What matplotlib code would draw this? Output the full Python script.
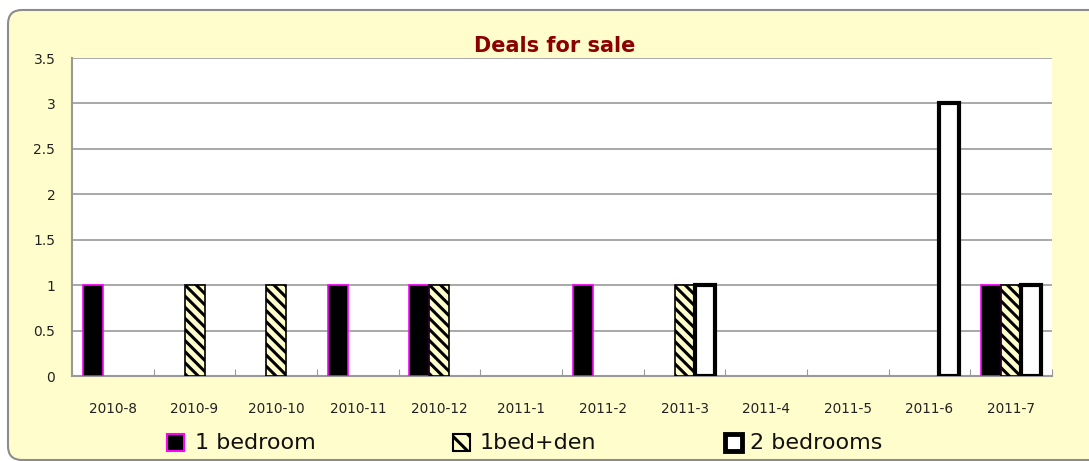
import matplotlib
matplotlib.use("Agg")
import matplotlib.pyplot as plt
import numpy as np
from matplotlib.patches import FancyBboxPatch, Rectangle

months = ["2010-8", "2010-9", "2010-10", "2010-11", "2010-12", "2011-1",
          "2011-2", "2011-3", "2011-4", "2011-5", "2011-6", "2011-7"]
one_bedroom = [1, 0, 0, 1, 1, 0, 1, 0, 0, 0, 0, 1]
one_bed_den = [0, 1, 1, 0, 1, 0, 0, 1, 0, 0, 0, 1]
two_bedrooms = [0, 0, 0, 0, 0, 0, 0, 1, 0, 0, 3, 1]
series_names = ["1 bedroom", "1bed+den", "2 bedrooms"]
y_ticks = [0, 0.5, 1, 1.5, 2, 2.5, 3, 3.5]
y_labels = ["0", "0.5", "1", "1.5", "2", "2.5", "3", "3.5"]

W, H = 1089, 461
fig = plt.figure(figsize=(W / 100, H / 100), dpi=100)
fig.patch.set_facecolor("white")
plt.rcParams['hatch.linewidth'] = 2.2

bg = "#FFFDCC"
frame = FancyBboxPatch((8, 1), 1200, 450,
                       boxstyle="round,pad=0,rounding_size=14",
                       transform=None, facecolor=bg,
                       edgecolor="#8C8C8C", linewidth=1.5, zorder=-5)
fig.patches.append(frame)

left, right = 72, 1052
top, bottom = 58, 376
ax = fig.add_axes([left / W, 1 - bottom / H, (right - left) / W, (bottom - top) / H])
ax.set_facecolor("white")

x = np.arange(len(months))
bw = 20 / ((right - left) / 12)


def draw(values, offset, **style):
    v = np.asarray(values, dtype=float)
    m = v > 0
    ax.bar(x[m] + offset, v[m], bw, zorder=3, **style)


draw(one_bedroom, -bw, facecolor="black", edgecolor="#FF00FF", linewidth=1.2)
draw(one_bed_den, 0, facecolor="#FFFDCC", edgecolor="black", hatch="\\\\\\", linewidth=1.2)
draw(two_bedrooms, bw, facecolor="white", edgecolor="black", linewidth=3)

ax.set_xlim(-0.5, len(months) - 0.5)
ax.set_ylim(0, 3.5)
ax.set_yticks(y_ticks)
ax.set_yticklabels(y_labels, fontsize=10, color="#222222")
ax.yaxis.grid(True, color="#999999", linewidth=1.2, zorder=0)
ax.set_axisbelow(True)
ax.tick_params(axis="y", length=0, pad=12)
ax.set_xticks(np.arange(len(months) + 1) - 0.5, minor=False)
ax.set_xticklabels([])
ax.set_xticks(x, minor=True)
ax.set_xticklabels(months, minor=True, fontsize=9.8, color="#222222")
ax.tick_params(axis="x", which="major", direction="in", length=5, color="#999999")
ax.tick_params(axis="x", which="minor", length=0, pad=19)
for s in ["top", "right"]:
    ax.spines[s].set_visible(False)
for s in ["left", "bottom"]:
    ax.spines[s].set_color("#999999")
    ax.spines[s].set_linewidth(1.5)

fig.text(555 / W, 1 - 46 / H, "Deals for sale", ha="center", va="center",
         fontsize=15, fontweight="bold", color="#8B0000")

# legend
leg_y = 1 - 443 / H
items = [(167, 195, dict(facecolor="black", edgecolor="#FF00FF", linewidth=1.5)),
         (453, 480, dict(facecolor="#FFFDCC", edgecolor="black", hatch="\\\\", linewidth=1.5)),
         (725, 750, dict(facecolor="white", edgecolor="black", linewidth=3.5))]
for (px, tx, style), name in zip(items, series_names):
    r = Rectangle((px / W, 1 - 451 / H), 17 / W, 17 / H,
                  transform=fig.transFigure, zorder=5, **style)
    fig.patches.append(r)
    fig.text(tx / W, leg_y, name, ha="left", va="center",
             fontsize=16, color="#111111")

fig.savefig("out.png", dpi=100, facecolor=fig.get_facecolor())
